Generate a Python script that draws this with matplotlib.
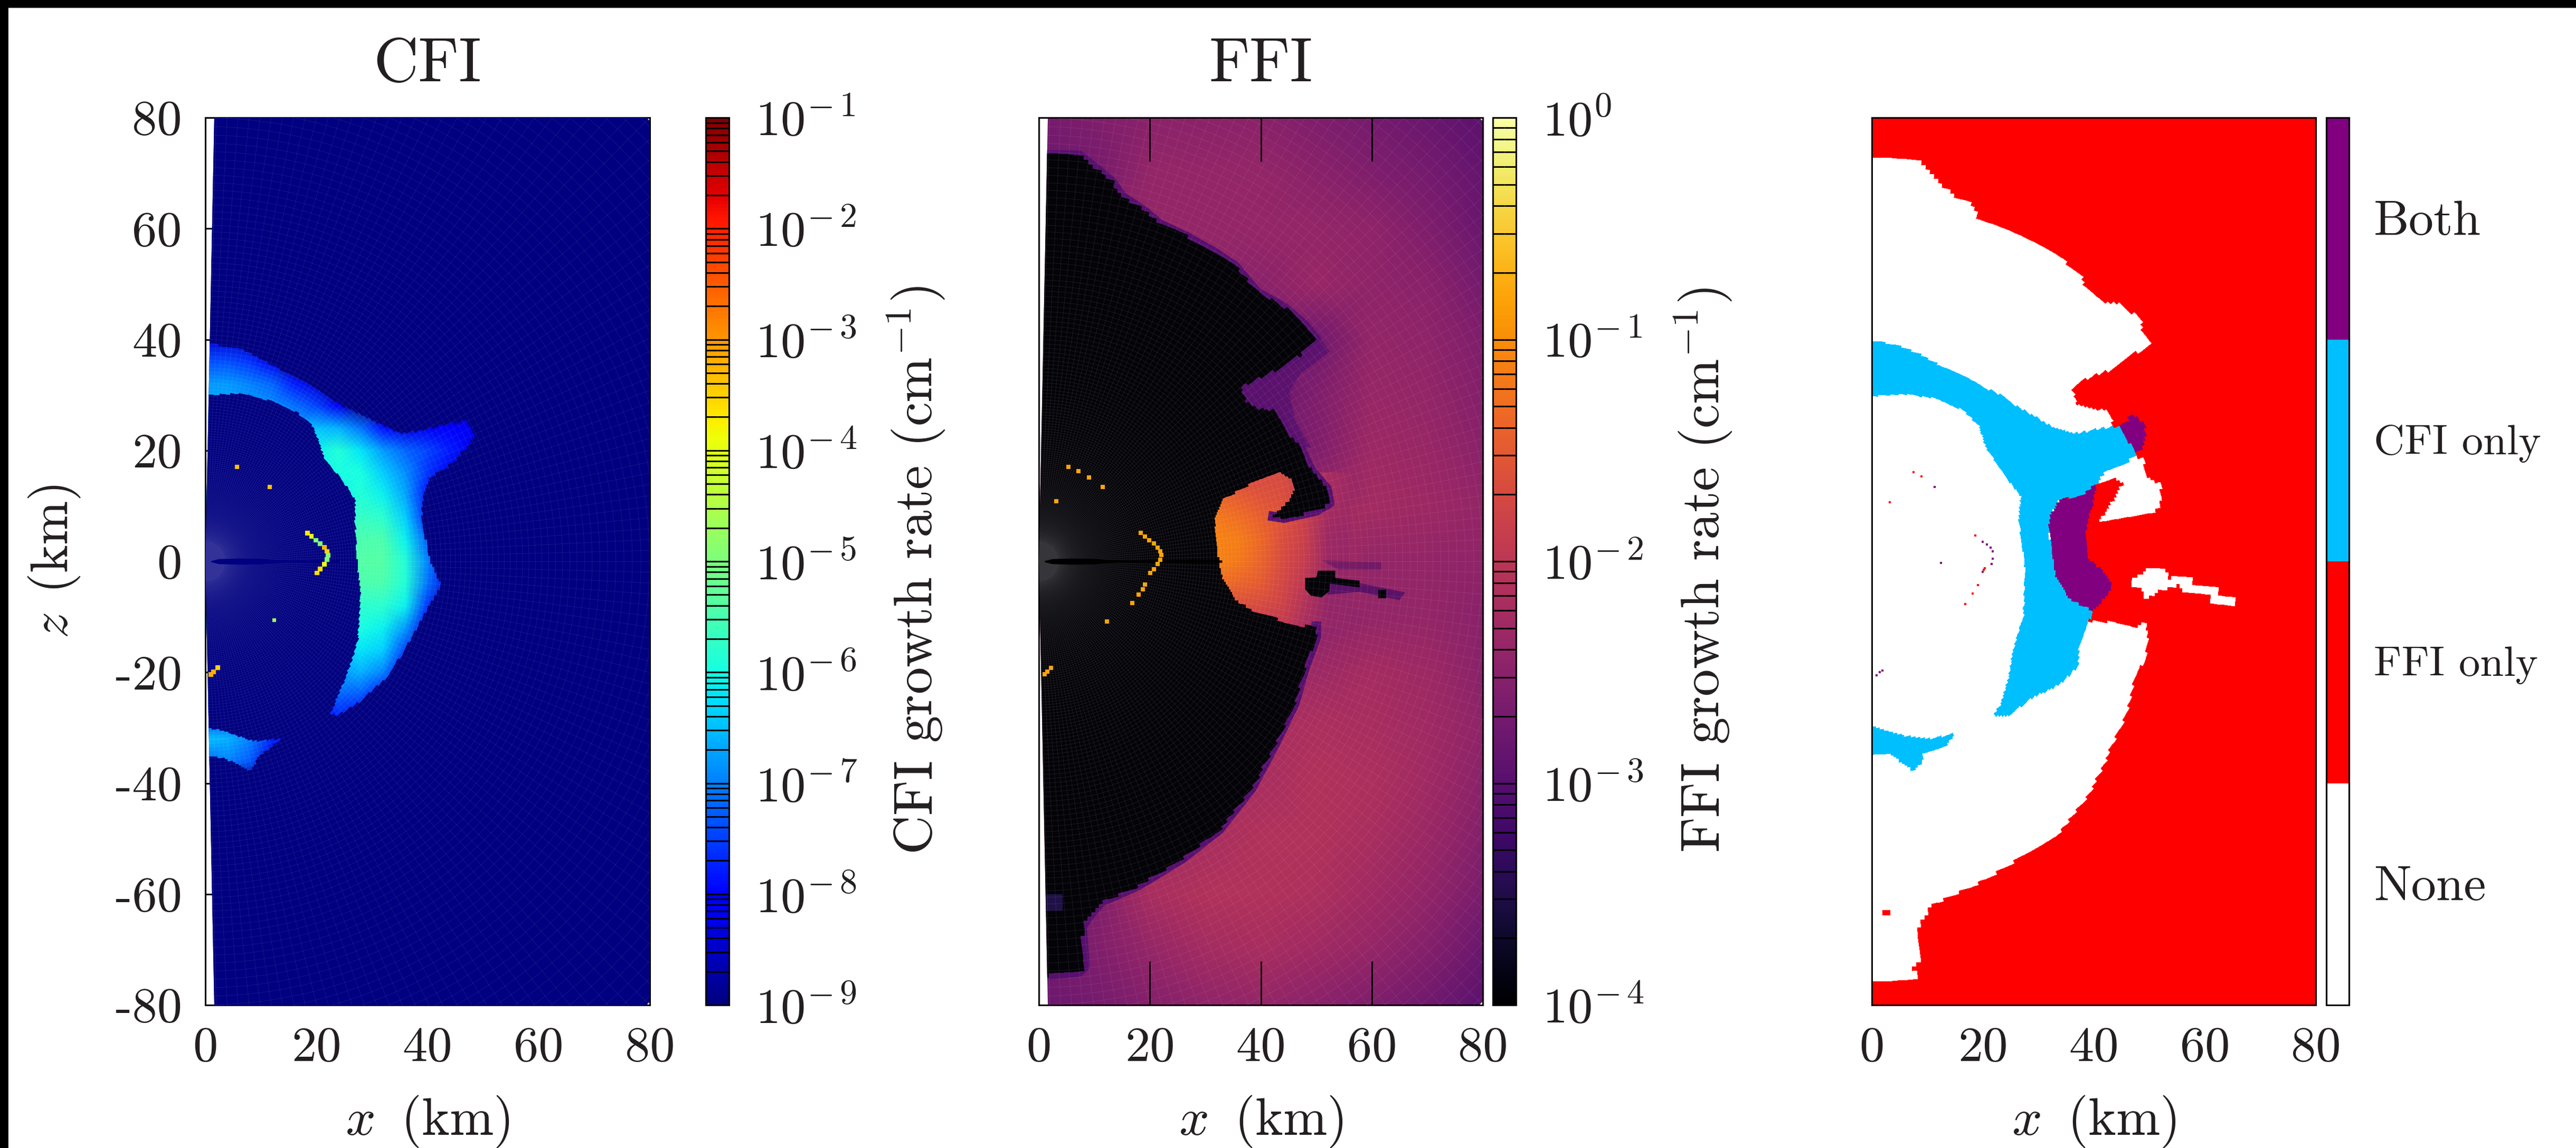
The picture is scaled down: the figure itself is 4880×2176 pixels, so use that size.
import numpy as np
import matplotlib
matplotlib.use('Agg')
import matplotlib.pyplot as plt
from matplotlib.collections import LineCollection
from matplotlib.colors import LogNorm, ListedColormap, BoundaryNorm
from matplotlib.cm import ScalarMappable
from matplotlib.patches import Wedge, Rectangle
from matplotlib.path import Path
from matplotlib.ticker import LogLocator, NullFormatter

plt.rcParams['font.family'] = ['cmr10', 'DejaVu Sans']
plt.rcParams['mathtext.fontset'] = 'cm'
plt.rcParams['axes.unicode_minus'] = False
plt.rcParams['text.color'] = '#231f20'
plt.rcParams['xtick.labelcolor'] = '#231f20'
plt.rcParams['ytick.labelcolor'] = '#231f20'
plt.rcParams['axes.labelcolor'] = '#231f20'

x_ticks = [0, 20, 40, 60, 80]
z_ticks = [80, 60, 40, 20, 0, -20, -40, -60, -80]

# CFI growth rate, log10(cm^-1), read on a 4 km grid
cfi_x = [0, 4, 8, 12, 16, 20, 24, 28, 32, 36, 40, 44, 48, 52]
cfi_z = [40, 36, 32, 28, 24, 20, 16, 12, 8, 4, 0, -4, -8, -12, -16, -20, -24, -28, -32, -36, -40]
cfi_log = [
    [-8.4, -8.4, -8.6, -9.0, -9.0, -9.0, -9.0, -9.0, -9.0, -9.0, -9.0, -9.0, -9.0, -9.0],
    [-7.4, -7.4, -7.6, -8.2, -9.0, -9.0, -9.0, -9.0, -9.0, -9.0, -9.0, -9.0, -9.0, -9.0],
    [-6.8, -6.8, -7.0, -7.2, -7.8, -8.4, -9.0, -9.0, -9.0, -9.0, -9.0, -9.0, -9.0, -9.0],
    [-6.7, -6.7, -6.8, -6.9, -7.1, -7.5, -8.2, -9.0, -9.0, -9.0, -9.0, -9.0, -9.0, -9.0],
    [-6.7, -6.7, -6.8, -6.9, -6.9, -6.5, -6.6, -7.1, -7.9, -8.3, -8.2, -8.1, -8.2, -9.0],
    [-6.7, -6.7, -6.8, -6.8, -6.5, -6.1, -5.9, -6.2, -6.8, -7.2, -7.5, -7.8, -8.2, -9.0],
    [-6.7, -6.7, -6.7, -6.7, -6.4, -6.1, -6.0, -6.0, -6.4, -6.9, -7.6, -8.2, -9.0, -9.0],
    [-6.7, -6.7, -6.7, -6.7, -6.4, -6.2, -6.1, -5.9, -6.1, -6.7, -7.9, -9.0, -9.0, -9.0],
    [-6.7, -6.7, -6.7, -6.7, -6.4, -6.1, -5.9, -5.7, -5.8, -6.4, -7.8, -9.0, -9.0, -9.0],
    [-6.7, -6.7, -6.7, -6.7, -6.4, -6.0, -5.7, -5.5, -5.5, -6.1, -7.3, -8.4, -9.0, -9.0],
    [-6.7, -6.7, -6.7, -6.7, -6.4, -6.0, -5.7, -5.4, -5.4, -5.9, -7.0, -8.2, -9.0, -9.0],
    [-6.7, -6.7, -6.7, -6.7, -6.4, -6.0, -5.7, -5.5, -5.5, -5.9, -7.1, -8.3, -9.0, -9.0],
    [-6.7, -6.7, -6.7, -6.7, -6.4, -6.1, -5.9, -5.8, -5.8, -6.1, -7.6, -9.0, -9.0, -9.0],
    [-6.7, -6.7, -6.7, -6.7, -6.5, -6.3, -6.2, -6.0, -6.1, -6.8, -8.2, -9.0, -9.0, -9.0],
    [-6.7, -6.7, -6.7, -6.7, -6.6, -6.5, -6.5, -6.2, -6.4, -7.5, -9.0, -9.0, -9.0, -9.0],
    [-6.7, -6.7, -6.7, -6.7, -6.8, -7.0, -6.8, -6.6, -7.0, -8.1, -9.0, -9.0, -9.0, -9.0],
    [-6.7, -6.7, -6.7, -7.0, -7.4, -7.6, -7.2, -7.3, -7.9, -9.0, -9.0, -9.0, -9.0, -9.0],
    [-7.8, -7.4, -7.4, -7.6, -7.9, -8.0, -7.7, -8.2, -9.0, -9.0, -9.0, -9.0, -9.0, -9.0],
    [-6.5, -6.6, -7.0, -7.7, -8.6, -9.0, -9.0, -9.0, -9.0, -9.0, -9.0, -9.0, -9.0, -9.0],
    [-7.2, -7.0, -7.3, -8.5, -9.0, -9.0, -9.0, -9.0, -9.0, -9.0, -9.0, -9.0, -9.0, -9.0],
    [-9.0, -9.0, -9.0, -9.0, -9.0, -9.0, -9.0, -9.0, -9.0, -9.0, -9.0, -9.0, -9.0, -9.0],
]
cfi_arc_x = [0, 6.7, 12, 18.7, 24, 29.6, 35, 38.3, 47, 48.4, 44.9, 40.5, 39.4, 38.9, 40.5, 42.5, 39.4, 36.1,
             32.8, 27.4, 23.6, 22.5, 25.2, 27.4, 27.9, 27.4, 26.9, 26.9, 24.7, 21.4, 20.3, 19.2, 16.5, 12.1, 6.7, 0]
cfi_arc_z = [39.5, 38.2, 35.5, 31.8, 28.5, 25.8, 23.1, 23.5, 25.5, 22.1, 18, 15.1, 11.8, 7.8, 0, -4.3, -9.7, -15.7,
             -21, -25.7, -27.9, -27.4, -21, -14.4, -5, -1, 7.1, 11.1, 14.5, 18.5, 21.8, 24.5, 26.8, 28.8, 30.2, 30]
cfi_blob_x = [0, 2.8, 8.8, 14.1, 9.9, 8, 6.1, 3.4, 0]
cfi_blob_z = [-30, -30.4, -32.4, -31.9, -35, -38, -37, -35.4, -35.2]

# FFI growth rate, log10(cm^-1), read on a 10 km grid
ffi_x = [0, 10, 20, 30, 40, 50, 60, 70, 80]
ffi_z = [80, 70, 60, 50, 40, 30, 20, 10, 0, -10, -20, -30, -40, -50, -60, -70, -80]
ffi_log = [
    [-2.70, -2.60, -2.50, -2.50, -2.50, -2.60, -2.70, -2.80, -2.95],
    [-2.80, -2.70, -2.40, -2.40, -2.40, -2.50, -2.60, -2.70, -2.85],
    [-2.40, -2.40, -2.40, -2.40, -2.38, -2.40, -2.45, -2.60, -2.80],
    [-2.40, -2.40, -2.40, -2.40, -2.50, -2.35, -2.45, -2.50, -2.70],
    [-2.40, -2.40, -2.40, -2.40, -2.50, -2.75, -2.40, -2.45, -2.60],
    [-2.40, -2.40, -2.40, -2.40, -2.90, -2.60, -2.35, -2.40, -2.55],
    [-2.40, -2.40, -2.40, -2.40, -2.60, -2.60, -2.30, -2.35, -2.50],
    [-2.40, -2.40, -2.40, -2.40, -2.40, -2.30, -2.25, -2.30, -2.40],
    [-2.40, -2.40, -2.40, -2.40, -2.30, -2.10, -2.40, -2.40, -2.45],
    [-2.40, -2.40, -2.40, -2.40, -2.40, -2.50, -2.40, -2.40, -2.50],
    [-2.40, -2.40, -2.40, -2.40, -2.30, -2.30, -2.22, -2.30, -2.50],
    [-2.40, -2.40, -2.40, -2.30, -2.20, -2.15, -2.20, -2.28, -2.45],
    [-2.40, -2.40, -2.30, -2.20, -2.20, -2.10, -2.15, -2.28, -2.50],
    [-2.40, -2.40, -2.30, -2.20, -2.10, -2.10, -2.20, -2.33, -2.55],
    [-2.60, -2.60, -2.20, -2.10, -2.10, -2.15, -2.28, -2.42, -2.65],
    [-2.70, -2.60, -2.38, -2.25, -2.20, -2.28, -2.38, -2.55, -2.80],
    [-2.80, -2.70, -2.55, -2.45, -2.40, -2.50, -2.60, -2.75, -2.95],
]
blob_x = [28, 32, 36, 40, 44, 48, 52, 56]
blob_z = [16, 12, 8, 4, 0, -4, -8, -12]
blob_log = [
    [-1.7, -1.7, -1.7, -1.7, -1.7, -1.9, -2.2, -2.3],
    [-1.4, -1.4, -1.5, -1.6, -1.65, -1.85, -2.2, -2.3],
    [-1.2, -1.2, -1.3, -1.45, -1.6, -1.85, -2.25, -2.3],
    [-1.1, -1.1, -1.15, -1.35, -1.65, -1.85, -2.3, -2.35],
    [-1.1, -1.1, -1.2, -1.4, -1.7, -1.9, -2.3, -2.35],
    [-1.3, -1.3, -1.4, -1.5, -1.75, -2.0, -2.4, -2.4],
    [-1.6, -1.6, -1.65, -1.7, -1.8, -2.1, -2.4, -2.4],
    [-1.8, -1.8, -1.9, -1.95, -1.95, -2.2, -2.4, -2.4],
]
black_x = [0, 7.3, 10.7, 13.1, 15, 18.9, 21.8, 26.7, 31.5, 35.4, 39.3, 44.2, 48, 50, 47.1, 42.2, 38.3, 36.2, 37.4,
           39.3, 42.2, 44.2, 47.1, 49, 51.9, 52.4, 50, 44.2, 42.2, 44.7, 46.1, 45.3, 43.7, 38.3, 33, 31.6, 32, 32.5,
           33, 35.4, 39.3, 47.1, 50, 50, 48, 46.1, 42.2, 38.3, 32.5, 25.7, 18, 11.2, 9.2, 7.8, 8.3, 7.3, 0]
black_z = [73.3, 73.2, 70.5, 68.5, 65.8, 63.2, 60.8, 58.5, 55.8, 53.2, 48.5, 45.8, 42.5, 40, 37.2, 34.2, 32.5, 31.2,
           28.8, 27.5, 27.2, 23.8, 20.5, 16.5, 13.1, 10.5, 9.1, 7.8, 8.1, 10.5, 12.8, 15.1, 16.1, 14.1, 11.1, 7.8,
           3.1, 0, -3, -7, -9.4, -11.7, -11.7, -13.7, -19, -25.7, -33.7, -41, -48.4, -53.7, -58.4, -61.4, -63.8,
           -65.8, -73, -74, -74.8]
bay_x = [51, 52.4, 47.1, 45.1, 46.1, 49, 44.2, 38.3, 36.4]
bay_z = [39.8, 37.8, 33.8, 30.5, 25.8, 20.5, 21.1, 29.2, 31.8]
spot_x = [50.3, 53.4, 53.4, 57.8, 57.8, 52.4, 52.4, 51, 49, 48, 48, 50]
spot_z = [-1.7, -1.7, -3, -3.5, -4.7, -4, -5.3, -6.5, -6.2, -5, -3, -2.9]
spot2_x = [61.2, 62.6, 62.6, 61.2]
spot2_z = [-5.1, -5.1, -6.7, -6.7]
tail_x = [52.4, 66, 65, 57.8, 52]
tail_z = [-2.8, -5.6, -7, -5.5, -6]
band_x = [51, 61.7, 61.7, 54]
band_z = [0.2, -0.2, -1.5, -1.5]
patch_x = [1.3, 4.3, 4.3, 1.3]
patch_z = [-60, -60, -63, -63]
eq_x = [1, 2.4, 6, 10, 12, 16, 20, 24, 28, 33]
eq_half = [0.1, 0.45, 0.55, 0.5, 0.3, 0.2, 0.3, 0.2, 0.3, 0.2]

# isolated unstable cells, shared by the CFI and FFI panels
dots_x = [18.4, 19.1, 19.9, 20.7, 21.4, 21.9, 22.1, 21.9, 21.4, 20.7, 20.1, 1.5, 1, 2.2]
dots_z = [5.1, 4.5, 3.8, 3.2, 2.5, 1.8, 1.1, 0.3, -0.5, -1.4, -2.1, -19.9, -20.4, -19.2]
dots_cfi = [-3.7, -4.0, -5.0, -5.0, -3.3, -3.5, -5.0, -5.0, -4.0, -3.6, -3.6, -3.2, -3.2, -3.5]
more_cfi_x = [5.7, 11.6, 12.4]
more_cfi_z = [17, 13.4, -10.6]
more_cfi = [-3.4, -3.4, -4.6]
more_ffi_x = [5.3, 7.1, 9, 11.5, 3.1, 19.1, 18.7, 18, 16.8, 12.3]
more_ffi_z = [17, 16.3, 15.1, 13.4, 10.8, -4.2, -5, -6, -7.5, -10.8]

# overlap panel regions
none_top_x = [0, 8.5, 10.8, 12.6, 15.3, 18, 19.3, 24.7, 29.2, 34.6, 35, 38, 38.2, 42.2, 44.9, 47.1, 48.9, 48.7, 50.4,
              48.5, 47.1, 43.5, 40, 38.1, 36.2, 36.8, 40, 42.5, 43.5, 40, 36.4, 32.8, 30.1, 26.5, 23.8, 20.2, 15.7,
              12.1, 8.5, 4, 0]
none_top_z = [72.7, 72.4, 70.2, 68, 65.5, 64.5, 61.6, 59.8, 57.5, 54.8, 53.2, 51.2, 49.5, 46.5, 46.5, 44.6, 44.2,
              41.5, 39, 37.5, 38, 34.8, 33.6, 32.8, 31.2, 28.5, 27.5, 27.5, 24.5, 23.8, 23.1, 24.1, 25.8, 27.8, 29.8,
              31.5, 33.8, 35.5, 37.5, 39.2, 39.7]
none_in_x = [0, 20, 33, 39, 44.4, 47.8, 49.4, 49.8, 49.4, 47.6, 46.7, 45.3, 43.1, 41.7, 40, 38.6, 35.9, 32.8, 27.4,
             21.1, 15.7, 11.2, 9.9, 8.5, 9.2, 7.6, 7.9, 0]
none_in_z = [35, 30, 15, -10.7, -11, -11.7, -10.9, -14.4, -17.7, -20.4, -25, -29, -33.7, -37, -40.4, -43, -46.4,
             -50.1, -53.1, -57.1, -59.8, -61.8, -63.5, -65.8, -71.8, -72.8, -75.1, -75.5]
none_tri_x = [41.7, 47.1, 48.9, 49.8, 52.1, 52.1, 50.7, 41, 42.2, 43.5, 45.3, 43.5, 40.8]
none_tri_z = [15.8, 19.1, 18.5, 15.1, 14.1, 10.1, 8.5, 7.1, 9.1, 11.1, 14.1, 15.1, 14.1]
none_streak_x = [49.8, 53, 53.4, 57.5, 57.9, 62.4, 62.8, 65.8, 65.5, 61.5, 61, 56.6, 55.2, 52.1, 49.4, 48.5, 46.7,
                 46.7, 48]
none_streak_z = [-1.3, -1.3, -3, -2.9, -4.3, -4.7, -6.3, -6.7, -8, -7.7, -6, -5.7, -4.3, -5.3, -7, -5, -4.3, -3.3,
                 -2.7]
cfi_only_x = [0, 4, 8.5, 12.1, 15.7, 20.2, 23.8, 26.5, 30.1, 32.8, 36.4, 40, 44.4, 47.6, 45.8, 41.7, 40.8, 38.2,
              33.7, 32.3, 31.9, 32.3, 33.2, 34.1, 35.9, 40, 39, 37.3, 37.3, 33.7, 29.2, 24.7, 21.8, 23.3, 24.7, 25.6,
              27.4, 27.6, 26.5, 26.9, 24.7, 20.6, 19.3, 16.6, 11.2, 5.8, 0]
cfi_only_z = [39.7, 39.2, 37.5, 35.5, 33.8, 31.5, 29.8, 27.8, 25.8, 24.1, 23.1, 23.8, 24.5, 19.5, 17.5, 15.9, 14.1,
              12.1, 11.1, 8.5, 5.1, 3.1, -2.9, -4.3, -7, -9, -10.9, -15.7, -19, -22.4, -24.4, -28, -28, -25.7, -21,
              -15.7, -9.7, -1, 7.8, 11.8, 14.5, 20.5, 24.5, 27.2, 29.5, 30.2, 29.8]
cfi_low_x = [0, 1.8, 6, 11, 15, 13.5, 9.5, 9, 7.5, 5.5, 3.5, 0]
cfi_low_z = [-29.7, -30.2, -31.5, -32, -31, -33.5, -34.5, -36.5, -37.8, -36.5, -34.8, -34.8]
both_x = [40.4, 40, 39, 38.6, 39, 40.8, 42.6, 43.5, 41.7, 39.9, 35.9, 34.1, 33.2, 32.3, 31.9, 32.3, 33.9, 38.2]
both_z = [14.1, 10.5, 7.8, 5.1, 0.5, -0.9, -3.2, -4.3, -7, -8.9, -7, -4.3, -2.9, 3.1, 5.8, 8.5, 11.1, 12.1]
both2_x = [44.4, 46.9, 49.4, 49.4, 48.5, 47.6]
both2_z = [24.5, 26.3, 25.1, 21.8, 19.8, 19.5]
red_dots_x = [7.5, 8.9, 3.2, 20.4, 20.2, 19.1, 18.2, 16.8, 18.6]
red_dots_z = [16.1, 15.3, 10.7, -1.2, -1.5, -4.3, -5.8, -7.7, 4.7]
purple_dots_x = [11.3, 20, 20.7, 21.4, 21.8, 21.8, 21.6, 20, 12.5, 1.9, 1.4, 0.9]
purple_dots_z = [13.4, 3.5, 3, 2.5, 1.8, 0.5, -0.5, -1.9, -0.3, -19.7, -20, -20.5]
overlap_labels = ['None', 'FFI only', 'CFI only', 'Both']
overlap_colors = ['white', 'red', 'deepskyblue', 'purple']

W, H = 4880, 2176
fig = plt.figure(figsize=(W / 200, H / 200), dpi=200)
fig.patches.append(Rectangle((0, 1 - 13 / H), 1, 13 / H, transform=fig.transFigure, color='black', zorder=10))
fig.patches.append(Rectangle((0, 0), 14 / W, 1, transform=fig.transFigure, color='black', zorder=10))


def px_axes(x0, x1, y0=223, y1=1905):
    return fig.add_axes([x0 / W, 1 - y1 / H, (x1 - x0) / W, (y1 - y0) / H])


def polar_mesh(r0, ratio, n_r, n_th):
    r = r0 * ratio ** np.arange(n_r + 1)
    th = np.radians(np.linspace(-90, 90, n_th + 1))
    rc = np.sqrt(r[:-1] * r[1:])
    thc = 0.5 * (th[:-1] + th[1:])
    X = np.outer(r, np.cos(th))
    Z = np.outer(r, np.sin(th))
    return X, Z, np.outer(rc, np.cos(thc)), np.outer(rc, np.sin(thc))


def cells_in(px, pz, Xc, Zc):
    path = Path(np.column_stack([px, pz]))
    return path.contains_points(np.column_stack([Xc.ravel(), Zc.ravel()])).reshape(Xc.shape)


def style_panel(ax, title=None, z_labels=False):
    ax.set_xlim(0, 80)
    ax.set_ylim(-80, 80)
    ax.set_xticks(x_ticks)
    ax.tick_params(axis='x', direction='in', top=True, length=30, width=1.0, labelsize=34, pad=15)
    if z_labels:
        ax.set_yticks(z_ticks)
        ax.tick_params(axis='y', direction='in', right=True, length=14, width=1.1, labelsize=34, pad=16)
        ax.set_ylabel(r'$z\;\,(\mathrm{km})$', fontsize=36, va='center')
        ax.yaxis.set_label_coords(-0.34, 0.5)
    else:
        ax.set_yticks([])
    ax.set_xlabel(r'$x\;\;(\mathrm{km})$', fontsize=36, va='center')
    ax.xaxis.set_label_coords(0.5, -0.131)
    if title:
        ax.set_title(title, fontsize=42.5, pad=25)
    for s in ax.spines.values():
        s.set_linewidth(1.1)


def add_cell_lines(ax, clip):
    r_edges = 3.5 * 1.02 ** np.arange(0, 177)
    th_edges = np.radians(np.linspace(-90, 90, 129))
    segs = [np.column_stack([r_edges[[0, -1]] * np.cos(t), r_edges[[0, -1]] * np.sin(t)]) for t in th_edges]
    for r in r_edges:
        segs.append(np.column_stack([r * np.cos(th_edges), r * np.sin(th_edges)]))
    lc = LineCollection(segs, colors='white', alpha=0.10, linewidths=0.3, zorder=5)
    ax.add_collection(lc)
    lc.set_clip_path(clip)
    core = Wedge((0, 0), 3.5, -90, 90, facecolor='white', alpha=0.2, edgecolor='none', zorder=5)
    ax.add_patch(core)
    core.set_clip_path(clip)


def colorbar(x0, x1, cmap, norm, ticks, labels, label):
    cax = px_axes(x0, x1)
    cb = fig.colorbar(ScalarMappable(norm=norm, cmap=cmap), cax=cax)
    cb.set_ticks(ticks, labels=labels)
    cax.yaxis.set_minor_locator(LogLocator(base=10, subs=np.arange(2, 10), numticks=100))
    cax.yaxis.set_minor_formatter(NullFormatter())
    cax.tick_params(which='both', direction='in', left=True, right=True, length=8, width=1.1, color='black')
    cax.tick_params(which='major', labelsize=34, pad=18)
    cb.outline.set_linewidth(1.1)
    cb.set_label(label, fontsize=37, va='center')
    cax.yaxis.set_label_coords(9.05, 0.49)


X, Z, Xc, Zc = polar_mesh(0.05, 1.01, 780, 256)

# CFI panel
cfi_norm = LogNorm(1e-9, 1e-1)
navy = ListedColormap([plt.cm.jet(0.0)])
ax1 = px_axes(389, 1231)
wedge1 = Wedge((0, 0), 112.7, -88.85, 88.85, facecolor=plt.cm.jet(0.0), edgecolor='none')
ax1.add_patch(wedge1)
m = ax1.pcolormesh(cfi_x, cfi_z, 10.0 ** np.array(cfi_log), cmap='jet', norm=cfi_norm, shading='gouraud', zorder=2)
m.set_clip_path(wedge1)
unstable = cells_in(cfi_arc_x, cfi_arc_z, Xc, Zc) | cells_in(cfi_blob_x, cfi_blob_z, Xc, Zc)
m = ax1.pcolormesh(X, Z, np.ma.masked_where(unstable, np.ones(Xc.shape)), cmap=navy, shading='flat',
                   antialiased=False, zorder=3)
m.set_clip_path(wedge1)
ax1.fill_between(eq_x[:8], -np.array(eq_half[:8]), eq_half[:8], color=plt.cm.jet(0.0), lw=0, zorder=6)
ax1.scatter(dots_x, dots_z, c=10.0 ** np.array(dots_cfi), cmap='jet', norm=cfi_norm, marker='s', s=10, lw=0, zorder=7)
ax1.scatter(more_cfi_x, more_cfi_z, c=10.0 ** np.array(more_cfi), cmap='jet', norm=cfi_norm, marker='s', s=8, lw=0, zorder=7)
add_cell_lines(ax1, wedge1)
style_panel(ax1, 'CFI', z_labels=True)
ax1.set_yticklabels([str(v) for v in z_ticks])
colorbar(1337, 1381, 'jet', cfi_norm, [10.0 ** e for e in range(-9, 0)],
         [r'$10^{-\,%d}$' % e for e in range(9, 0, -1)], r'CFI growth rate $(\mathrm{cm}^{-1})$')

# FFI panel
ffi_norm = LogNorm(1e-4, 1e0)
ax2 = px_axes(1968, 2809)
wedge2 = Wedge((0, 0), 112.7, -88.85, 88.85, facecolor='none', edgecolor='none')
ax2.add_patch(wedge2)
m = ax2.pcolormesh(ffi_x, ffi_z, 10.0 ** np.array(ffi_log), cmap='inferno', norm=ffi_norm, shading='gouraud', zorder=1)
m.set_clip_path(wedge2)
m = ax2.pcolormesh(blob_x, blob_z, 10.0 ** np.array(blob_log), cmap='inferno', norm=ffi_norm, shading='gouraud', zorder=2)
m.set_clip_path(wedge2)
dark = plt.cm.inferno(0.2)
ax2.fill(bay_x, bay_z, color=plt.cm.inferno(0.25), alpha=0.8, lw=0, zorder=3)
ax2.fill(band_x, band_z, color=dark, alpha=0.4, lw=0, zorder=3)
ax2.fill(tail_x, tail_z, color=dark, alpha=0.7, lw=0, zorder=3)
# dark rim only where the stable region faces the outer field, not along the blob
for i0, i1 in [(0, 29), (42, 57)]:
    rim, = ax2.plot(black_x[i0:i1], black_z[i0:i1], color=plt.cm.inferno(0.25), lw=6.5, solid_joinstyle='round', zorder=3)
    rim.set_clip_path(wedge2)
m = ax2.pcolormesh(X, Z, np.ma.masked_where(~cells_in(black_x, black_z, Xc, Zc), np.ones(Xc.shape)),
                   cmap=ListedColormap(['#040308']), shading='flat', antialiased=False, zorder=4)
m.set_clip_path(wedge2)
ax2.fill(spot_x, spot_z, color='#040308', lw=0, zorder=4)
ax2.fill(spot2_x, spot2_z, color='#040308', lw=0, zorder=4)
ax2.fill(patch_x, patch_z, color='#1f1147', lw=0, zorder=4)
add_cell_lines(ax2, wedge2)
ax2.fill_between(eq_x, -np.array(eq_half), eq_half, color='black', lw=0, zorder=6)
ax2.scatter(dots_x, dots_z, color='#fca50a', marker='s', s=10, lw=0, zorder=7)
ax2.scatter(more_ffi_x, more_ffi_z, color='#fca50a', marker='s', s=8, lw=0, zorder=7)
style_panel(ax2, 'FFI')
colorbar(2828, 2872, 'inferno', ffi_norm, [10.0 ** e for e in range(-4, 1)],
         [r'$10^{-\,4}$', r'$10^{-\,3}$', r'$10^{-\,2}$', r'$10^{-\,1}$', r'$10^{0}$'],
         r'FFI growth rate $(\mathrm{cm}^{-1})$')

# overlap panel, regions painted onto a finer copy of the simulation cells
ax3 = px_axes(3546, 4387)
ax3.set_facecolor('red')
cats = np.zeros(Xc.shape)
for px, pz in [(none_top_x, none_top_z), (none_in_x, none_in_z), (none_tri_x, none_tri_z),
               (none_streak_x, none_streak_z)]:
    cats[cells_in(px, pz, Xc, Zc)] = 1
cats[cells_in(cfi_only_x, cfi_only_z, Xc, Zc) | cells_in(cfi_low_x, cfi_low_z, Xc, Zc)] = 2
cats[cells_in(both_x, both_z, Xc, Zc) | cells_in(both2_x, both2_z, Xc, Zc)] = 3
ax3.pcolormesh(X, Z, cats, cmap=ListedColormap(['red', 'white', 'deepskyblue', 'purple']), vmin=-0.5, vmax=3.5,
               shading='flat', antialiased=False, zorder=2)
ax3.add_patch(Rectangle((1.9, -63.8), 1.4, 0.9, color='red', lw=0, zorder=4))
ax3.scatter(red_dots_x, red_dots_z, color='red', marker='s', s=2.5, lw=0, zorder=5)
ax3.scatter(purple_dots_x, purple_dots_z, color='purple', marker='s', s=2.5, lw=0, zorder=5)
style_panel(ax3)

cax3 = px_axes(4407, 4450)
cb3 = fig.colorbar(ScalarMappable(norm=BoundaryNorm([0, 1, 2, 3, 4], 4), cmap=ListedColormap(overlap_colors)),
                   cax=cax3, spacing='uniform')
cb3.set_ticks([0.55, 1.55, 2.55, 3.55], labels=overlap_labels)
cax3.minorticks_off()
cax3.tick_params(length=0, pad=17, labelsize=34)
for t, size in zip(cax3.get_yticklabels(), [34, 29, 29, 34]):
    t.set_fontsize(size)
cb3.outline.set_linewidth(1.1)

fig.savefig('out.png', dpi=200, facecolor='white')
